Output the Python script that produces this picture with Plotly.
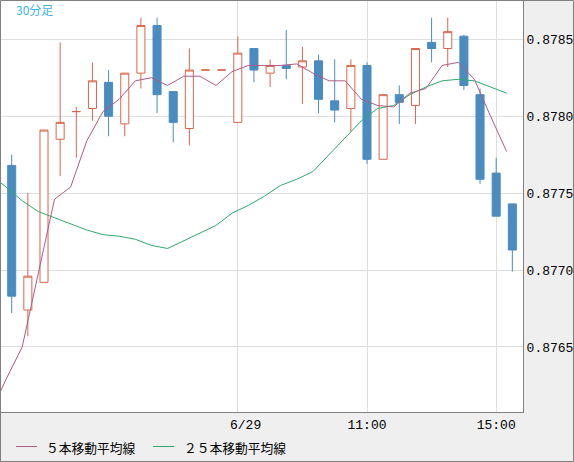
import plotly.graph_objects as go

# ---- data ----
idx = list(range(32))
opens = [0.87768, 0.87674, 0.87692, 0.87785, 0.87803, 0.87805, 0.87822, 0.87795,
         0.87828, 0.87859, 0.87816, 0.87792, 0.87830, 0.87830, 0.87796, 0.87844,
         0.87828, 0.87833, 0.87832, 0.87836, 0.87810, 0.87805, 0.87833, 0.87772,
         0.87814, 0.87807, 0.87848, 0.87844, 0.87852, 0.87814, 0.87763, 0.87743]
highs = [0.87775, 0.87750, 0.87791, 0.87848, 0.87806, 0.87835, 0.87830, 0.87828,
         0.87864, 0.87864, 0.87816, 0.87844, 0.87830, 0.87830, 0.87852, 0.87844,
         0.87837, 0.87856, 0.87845, 0.87840, 0.87837, 0.87837, 0.87835, 0.87814,
         0.87820, 0.87844, 0.87864, 0.87864, 0.87853, 0.87818, 0.87773, 0.87743]
lows = [0.87672, 0.87657, 0.87692, 0.87761, 0.87773, 0.87797, 0.87787, 0.87787,
        0.87818, 0.87802, 0.87783, 0.87781, 0.87830, 0.87830, 0.87796, 0.87822,
        0.87819, 0.87824, 0.87808, 0.87802, 0.87796, 0.87790, 0.87769, 0.87772,
        0.87795, 0.87795, 0.87835, 0.87832, 0.87817, 0.87756, 0.87735, 0.87699]
closes = [0.87683, 0.87696, 0.87791, 0.87796, 0.87803, 0.87823, 0.87800, 0.87828,
          0.87859, 0.87814, 0.87796, 0.87830, 0.87830, 0.87830, 0.87841, 0.87830,
          0.87833, 0.87831, 0.87836, 0.87811, 0.87804, 0.87833, 0.87772, 0.87814,
          0.87809, 0.87844, 0.87844, 0.87855, 0.87820, 0.87759, 0.87735, 0.87713]

ma_idx = list(range(-1, 32))
ma5 = [0.87606, 0.87629, 0.87650, 0.87699, 0.87746, 0.87754, 0.87784, 0.87803,
       0.87811, 0.87823, 0.87825, 0.87820, 0.87826, 0.87826, 0.87820, 0.87829,
       0.87833, 0.87833, 0.87833, 0.87834, 0.87828, 0.87823, 0.87823, 0.87811,
       0.87807, 0.87806, 0.87815, 0.87818, 0.87833, 0.87835, 0.87824, 0.87800,
       0.87777]
ma25 = [0.87762, 0.87754, 0.87745, 0.87738, 0.87734, 0.87730, 0.87726, 0.87723,
        0.87722, 0.87720, 0.87716, 0.87714, 0.87719, 0.87724, 0.87729, 0.87737,
        0.87742, 0.87748, 0.87755, 0.87759, 0.87764, 0.87775, 0.87786, 0.87797,
        0.87805, 0.87807, 0.87814, 0.87819, 0.87823, 0.87824, 0.87823, 0.87819,
        0.87815]

tick_pos = [14, 22, 30]
tick_text = ["\u00a0\u00a06/29", "11:00", "15:00"]
y_ticks = [0.8765, 0.8770, 0.8775, 0.8780, 0.8785]

title_text = "30分足"
legend_5 = "５本移動平均線"
legend_25 = "２５本移動平均線"

# ---- styles ----
RED = "#d9664b"
BLUE = "#4a8cc0"
C5 = "#b25a87"
C25 = "#2eaa6c"
MA_SHIFT = 0.35

fig = go.Figure()
fig.add_trace(go.Scatter(x=[i - MA_SHIFT for i in ma_idx], y=ma25, mode="lines",
                         line=dict(color=C25, width=1), showlegend=False,
                         hoverinfo="skip"))
fig.add_trace(go.Scatter(x=[i - MA_SHIFT for i in ma_idx], y=ma5, mode="lines",
                         line=dict(color=C5, width=1), showlegend=False,
                         hoverinfo="skip"))
fig.add_trace(go.Candlestick(
    x=idx, open=opens, high=highs, low=lows, close=closes,
    increasing=dict(line=dict(color=RED, width=1), fillcolor="white"),
    decreasing=dict(line=dict(color=BLUE, width=1), fillcolor=BLUE),
    whiskerwidth=0, showlegend=False))

W, H = 574, 462
L, R, T, B = 1, 51, 1, 50
pw, ph = W - L - R, H - T - B

def px(xp):
    return (xp - L) / pw

def py(yp):
    return 1 - (yp - T) / ph

fig.update_layout(
    width=W, height=H,
    margin=dict(l=L, r=R, t=T, b=B, pad=0),
    paper_bgcolor="#efefef", plot_bgcolor="white",
    boxgap=0.29,
    xaxis=dict(range=[-0.663, 31.66], tickmode="array", tickvals=tick_pos,
               ticktext=tick_text, showgrid=True, gridcolor="#dedede",
               gridwidth=1, zeroline=False, showline=True, linecolor="#808080",
               linewidth=1, ticks="", rangeslider=dict(visible=False),
               tickfont=dict(family="Liberation Mono", size=13, color="#000"),
               fixedrange=True),
    yaxis=dict(range=[0.876077, 0.878749], side="right", tickmode="array",
               tickvals=y_ticks, tickformat=".4f", showgrid=True,
               gridcolor="#dedede", gridwidth=1, zeroline=False, showline=True,
               linecolor="#808080", linewidth=1, ticks="",
               tickfont=dict(family="Liberation Mono", size=13, color="#000"),
               fixedrange=True),
    font=dict(family="Noto Sans CJK JP"),
    shapes=[
        dict(type="rect", xref="paper", yref="paper", x0=px(0.5), x1=px(573.5),
             y0=py(461.5), y1=py(0.5), line=dict(color="#808080", width=1),
             fillcolor="rgba(0,0,0,0)", layer="above"),
        dict(type="line", xref="paper", yref="paper", x0=px(16), x1=px(37),
             y0=py(446.5), y1=py(446.5), line=dict(color=C5, width=1)),
        dict(type="line", xref="paper", yref="paper", x0=px(153), x1=px(174),
             y0=py(446.5), y1=py(446.5), line=dict(color=C25, width=1)),
    ],
    annotations=[
        dict(text=title_text, xref="paper", yref="paper", x=px(14), y=py(10),
             xanchor="left", yanchor="middle", showarrow=False,
             font=dict(family="Noto Sans CJK JP", size=12, color="#3ab4ec")),
        dict(text=legend_5, xref="paper", yref="paper", x=px(44), y=py(447),
             xanchor="left", yanchor="middle", showarrow=False,
             font=dict(family="Noto Sans CJK JP", size=12.75, color="#000")),
        dict(text=legend_25, xref="paper", yref="paper", x=px(182), y=py(447),
             xanchor="left", yanchor="middle", showarrow=False,
             font=dict(family="Noto Sans CJK JP", size=12.75, color="#000")),
    ],
)

fig.write_html("out.html")
